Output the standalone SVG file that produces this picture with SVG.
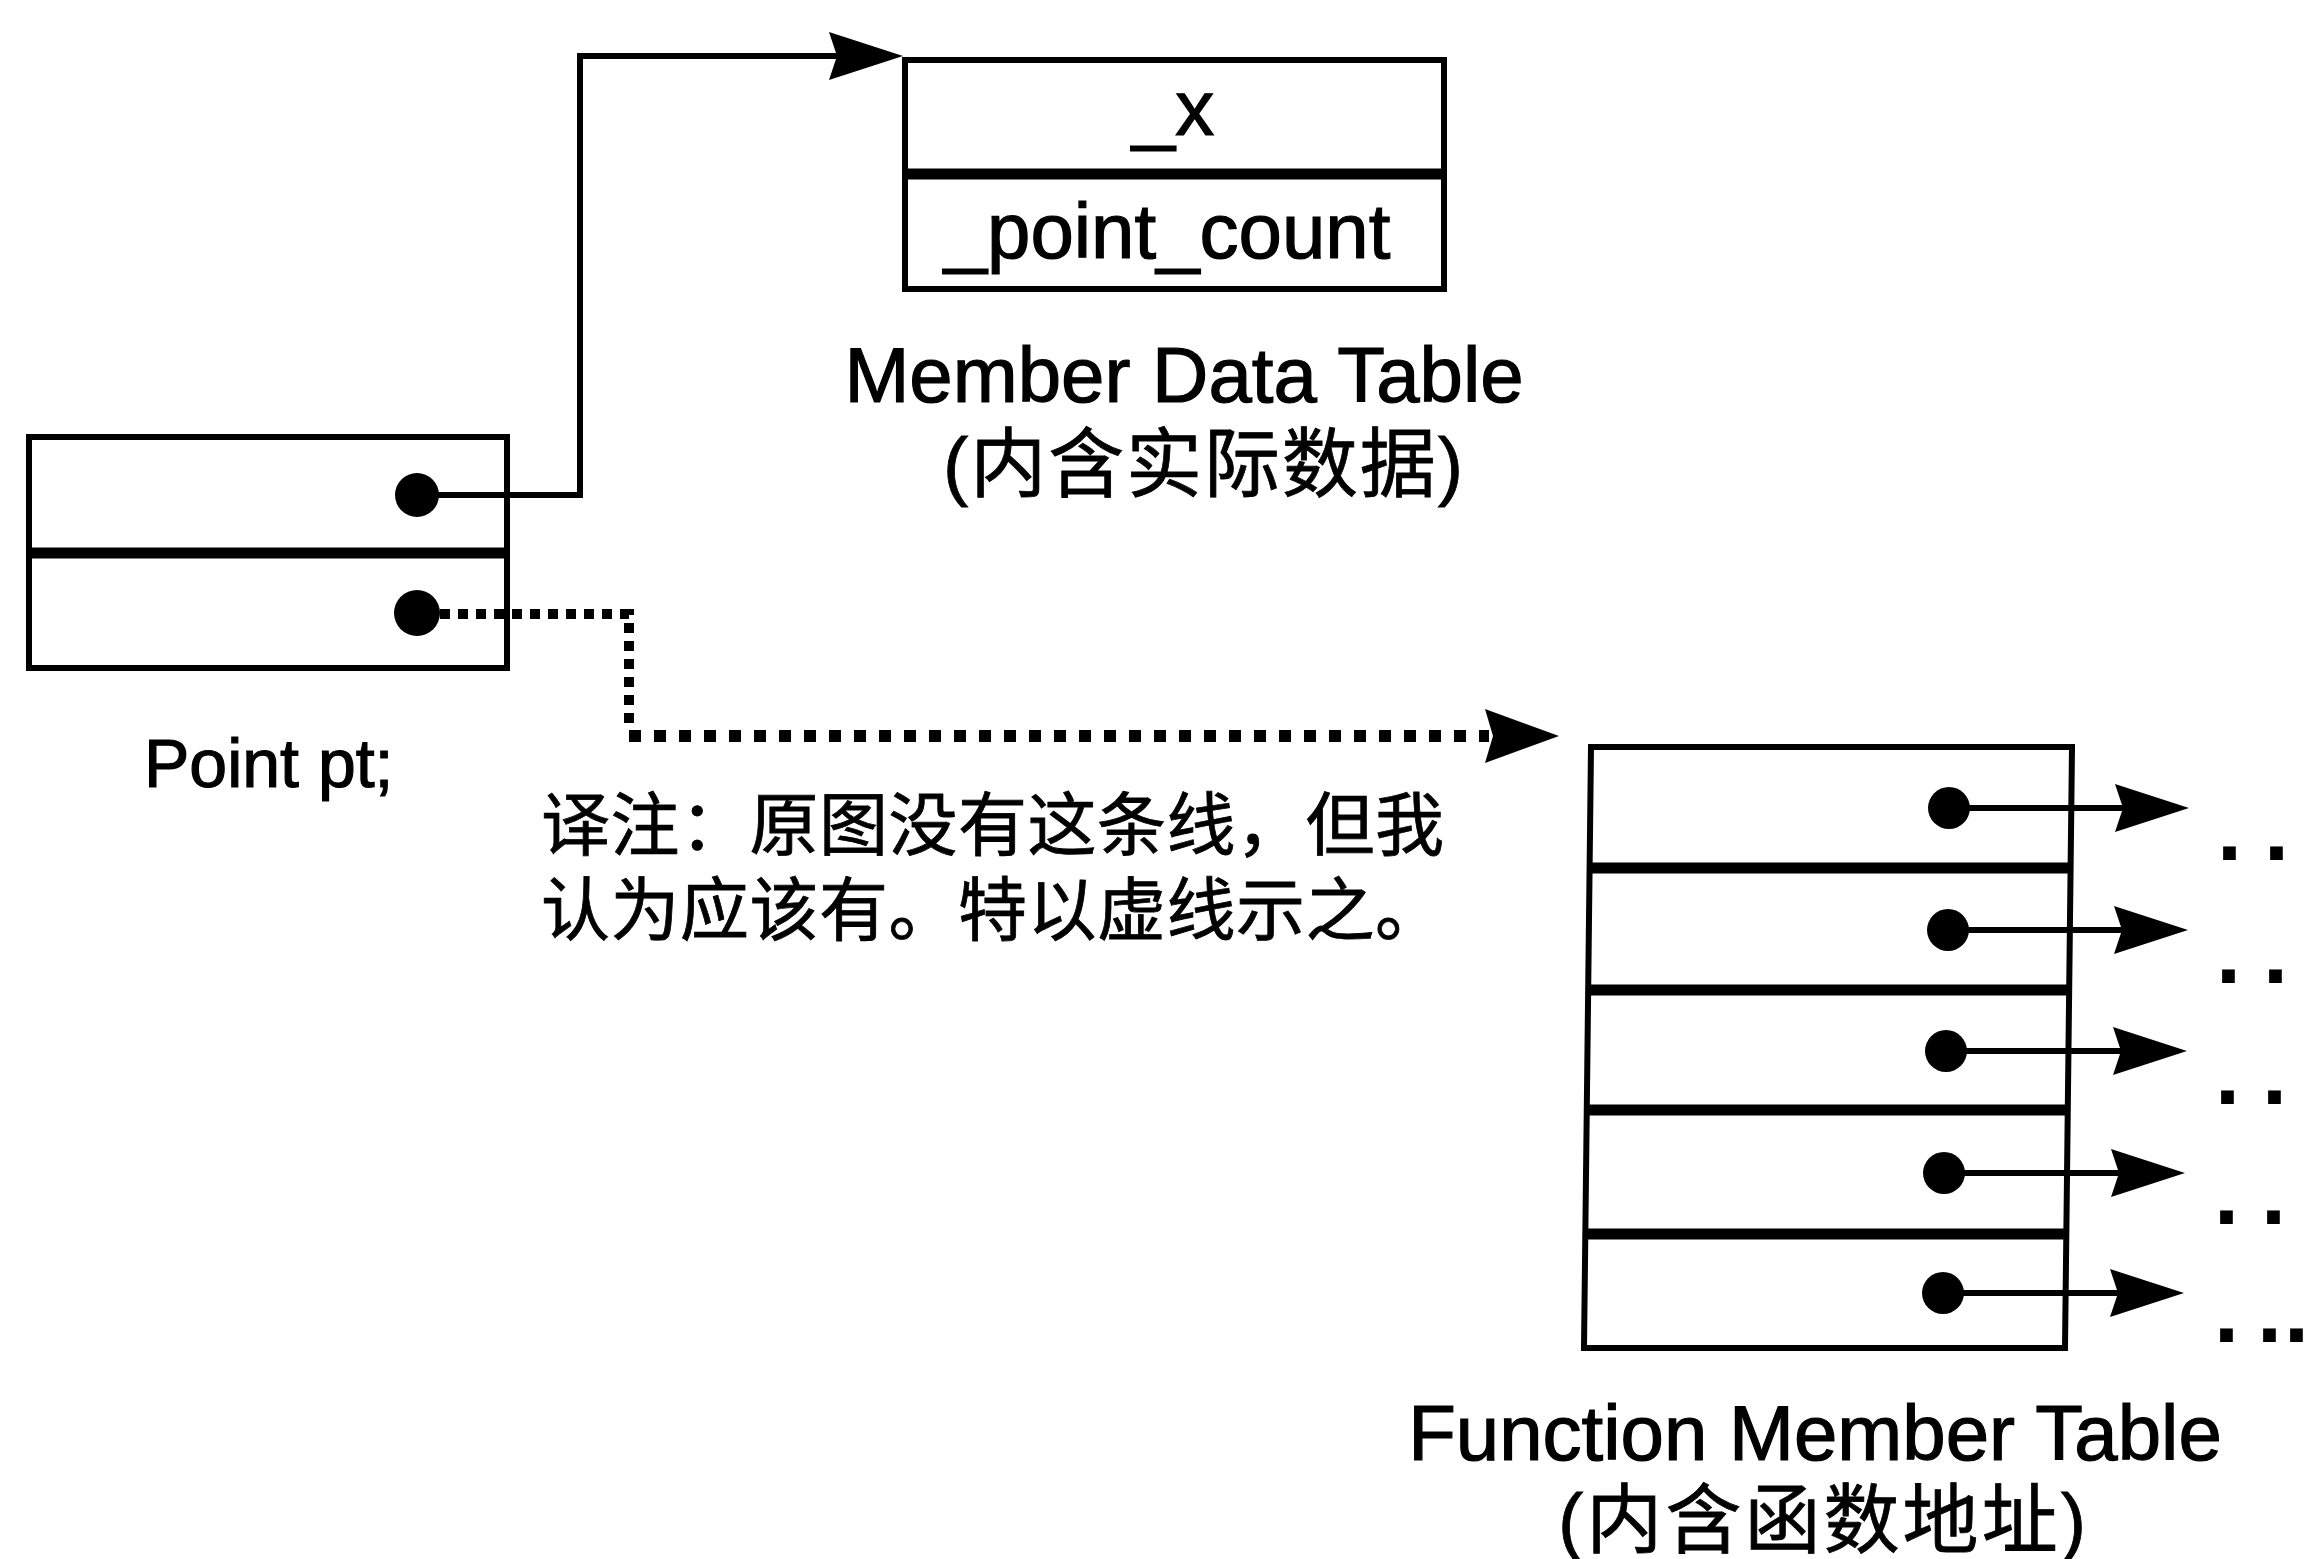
<svg xmlns="http://www.w3.org/2000/svg" width="2310" height="1559" viewBox="0 0 2310 1559">
<style>
.box{fill:none;stroke:#000;stroke-width:6;stroke-linejoin:miter}
.div{fill:none;stroke:#000;stroke-width:11}
.dot{fill:#000}
.wire{fill:none;stroke:#000;stroke-width:6}
.dotted1{fill:none;stroke:#000;stroke-width:10;stroke-dasharray:10 8}
.dotted2{fill:none;stroke:#000;stroke-width:12;stroke-dasharray:12 13}
.lat{font-family:"Liberation Sans",Arial,sans-serif;fill:#000;stroke:#000;stroke-width:1.2}
.cjk{font-family:"Liberation Sans","Noto Sans CJK SC",sans-serif;fill:#000;stroke:#000;stroke-width:0.8}
.ell{font-family:"Liberation Sans",Arial,sans-serif;font-weight:bold;font-size:90px;fill:#000}
</style>
<defs>
<marker id="ah" viewBox="0 0 74 52" refX="8" refY="26" markerWidth="74" markerHeight="52" markerUnits="userSpaceOnUse" orient="auto">
<path d="M0,2 L74,26 L0,50 L8,26 Z" fill="#000"/>
</marker>
</defs>
<rect width="2310" height="1559" fill="#fff"/>

<g id="connectors">
<path class="wire" d="M417,495 H580 V56 H837" marker-end="url(#ah)"/>
<path class="dotted1" d="M440,614 H629 V725"/>
<path class="dotted2" d="M629,736 H1489"/>
<path d="M1485,709 L1559,736 L1485,763 L1493,736 Z" fill="#000"/>
<path class="wire" d="M1949,808 H2123" marker-end="url(#ah)"/>
<path class="wire" d="M1948,930 H2122" marker-end="url(#ah)"/>
<path class="wire" d="M1946,1051 H2121" marker-end="url(#ah)"/>
<path class="wire" d="M1944,1173 H2119" marker-end="url(#ah)"/>
<path class="wire" d="M1943,1293 H2118" marker-end="url(#ah)"/>
</g>

<g id="point-pt">
<rect class="box" x="29" y="437" width="478" height="231"/>
<line class="div" x1="29" y1="553" x2="507" y2="553"/>
<circle class="dot" cx="417" cy="495" r="22"/>
<circle class="dot" cx="417" cy="613" r="23"/>
<text class="lat" x="144" y="787" font-size="68">Point pt;</text>
</g>

<g id="member-data-table">
<rect class="box" x="905" y="60" width="539" height="229"/>
<line class="div" x1="905" y1="174" x2="1444" y2="174"/>
<text class="lat" x="1173" y="135" font-size="78" text-anchor="middle">_x</text>
<text class="lat" x="1167" y="258" font-size="78" text-anchor="middle">_point_count</text>
<text class="lat" x="1184" y="402" font-size="78" text-anchor="middle">Member Data Table</text>
<text class="cjk" x="943" y="491" font-size="76" textLength="520" lengthAdjust="spacing">(内含实际数据)</text>
</g>

<g id="note">
<text class="cjk" x="541" y="850" font-size="69" textLength="903" lengthAdjust="spacing">译注：原图没有这条线，但我</text>
<text class="cjk" x="541" y="935" font-size="69" textLength="903" lengthAdjust="spacing">认为应该有。特以虚线示之。</text>
</g>

<g id="function-member-table">
<path class="box" d="M1591,747 L2072,747 L2065,1348 L1584,1348 Z"/>
<line class="div" x1="1590" y1="868" x2="2071" y2="868"/>
<line class="div" x1="1588" y1="990" x2="2069" y2="990"/>
<line class="div" x1="1587" y1="1110" x2="2068" y2="1110"/>
<line class="div" x1="1585" y1="1234" x2="2066" y2="1234"/>
<circle class="dot" cx="1949" cy="808" r="21"/>
<circle class="dot" cx="1948" cy="930" r="21"/>
<circle class="dot" cx="1946" cy="1051" r="21"/>
<circle class="dot" cx="1944" cy="1173" r="21"/>
<circle class="dot" cx="1943" cy="1293" r="21"/>
<text class="ell" x="2217 2264" y="860">..</text>
<text class="ell" x="2216 2263" y="983">..</text>
<text class="ell" x="2215 2262" y="1104">..</text>
<text class="ell" x="2214 2261" y="1224">..</text>
<text class="ell" x="2214 2257 2284" y="1342">...</text>
<text class="lat" x="1815" y="1460" font-size="78" text-anchor="middle">Function Member Table</text>
<text class="cjk" x="1558" y="1547" font-size="76" textLength="528" lengthAdjust="spacing">(内含函数地址)</text>
</g>
</svg>
